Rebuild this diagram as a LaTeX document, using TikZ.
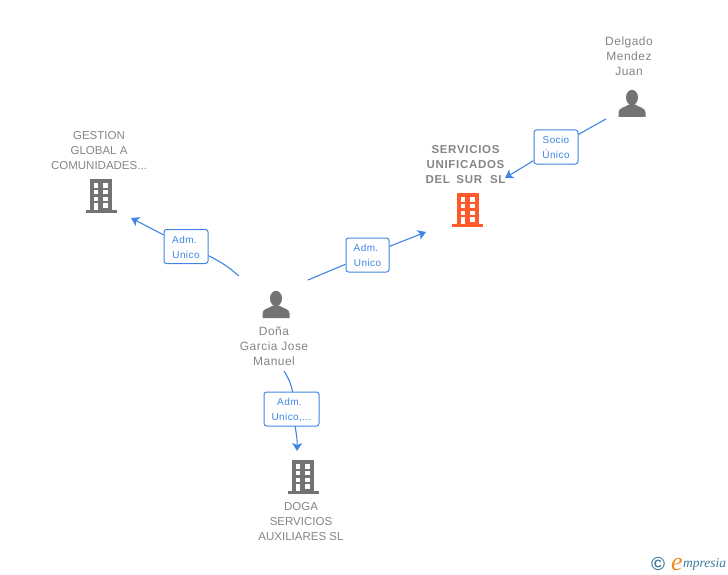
\documentclass[tikz,border=0pt]{standalone}
\usepackage{fontspec}
\usepackage{tikz}
\usetikzlibrary{arrows.meta}
\setmainfont{Liberation Sans}
\newfontfamily\spacedbold[LetterSpace=6]{Liberation Sans}
\newfontfamily\spacedsans[LetterSpace=4]{Liberation Sans}
\newfontfamily\logofont{Liberation Serif}
\definecolor{labelgray}{HTML}{858585}
\definecolor{icongray}{HTML}{737373}
\definecolor{linkblue}{HTML}{3F86E4}
\definecolor{mainorange}{HTML}{FF5A2C}
\definecolor{logoblue}{HTML}{3E7C9C}
\definecolor{logoorange}{HTML}{F08A1E}

\tikzset{
  building/.pic = {
    \fill[pic actions] (-11,-17) rectangle (11,14);
    \fill[pic actions] (-15.5,14) rectangle (15.5,17);
    \foreach \r/\h in {-12.7/5, -6/4, 1.3/3.6} {
      \fill[white] (-7,\r) rectangle (-2.7,\r+\h);
      \fill[white] (2.3,\r) rectangle (7,\r+\h);
    }
    \fill[white] (-7,7.3) rectangle (-2.7,14);
    \fill[white] (2.3,7.3) rectangle (7,11.5);
  },
  person/.pic = {
    \fill[pic actions] (0,-6) ellipse (6 and 7.7);
    \fill[pic actions] (-13.5,13.5) -- (-13.5,9) .. controls (-13.5,4) and (-7,4) .. (-3,1)
      -- (3,1) .. controls (7,4) and (13.5,4) .. (13.5,9) -- (13.5,13.5) -- cycle;
  }
}

\begin{document}
\begin{tikzpicture}[x=1pt, y=-1pt,
  entity/.style = {text=labelgray, align=center, inner sep=0pt, font=\fontsize{11.5}{15}\selectfont},
  persona/.style = {text=labelgray, align=center, inner sep=0pt, font=\fontsize{12}{15}\selectfont\spacedsans},
  mainentity/.style = {text=labelgray, align=center, inner sep=0pt, font=\fontsize{11.5}{15}\selectfont\spacedbold\bfseries},
  role/.style = {draw=linkblue, fill=white, rounded corners=2.5pt, line width=1pt, text=linkblue,
    align=center, inner sep=0pt, minimum height=34pt, text height=24pt, font=\fontsize{10}{15}\selectfont\spacedsans},
  link/.style = {draw=linkblue, line width=1.1pt},
  linkto/.style = {link, -{Stealth[length=8pt,width=10pt,inset=2pt]}}]

\useasboundingbox (0,0) rectangle (728,575);

%% icons
\pic[fill=icongray] at (101,196) {building};
\pic[fill=mainorange] at (467.5,210) {building};
\pic[fill=icongray] at (303,477) {building};
\pic[fill=icongray] at (276,304.5) {person};
\pic[fill=icongray] at (632,103.5) {person};

%% names
\node[entity] (gestion) at (99,150.7) {GESTION\\GLOBAL A\\COMUNIDADES...};
\node[mainentity] (servicios) at (465.5,164.7) {SERVICIOS\\UNIFICADOS\\DEL\hspace{6.5pt}SUR\hspace{8pt}SL};
\node[persona] (delgado) at (629,56) {Delgado\\Mendez\\Juan};
\node[persona] (dona) at (274,346) {Doña\\Garcia Jose\\Manuel};
\node[entity] (doga) at (301,521.7) {DOGA\\SERVICIOS\\AUXILIARES SL};

%% role boxes
\node[role, minimum width=44pt] (socio) at (556,147) {Socio\\Único};
\node[role, minimum width=44pt] (admgestion) at (186,246.5) {Adm.\hspace*{3pt}\\Unico};
\node[role, minimum width=43pt] (admservicios) at (367.5,255) {Adm.\hspace*{3pt}\\Unico};
\node[role, minimum width=55pt] (admdoga) at (291.5,409) {Adm.\hspace*{4pt}\\Unico,...};

%% free ends
\coordinate (delgadoout) at (606,119);
\coordinate (serviciosin) at (505,178);
\coordinate (gestionin) at (131,218);
\coordinate (gestionout) at (239,276);
\coordinate (serviciosout) at (308,280);
\coordinate (serviciosin2) at (426,232);
\coordinate (dogaout) at (284,371);
\coordinate (dogaboxin) at (292.7,392);
\coordinate (dogaboxout) at (295,426);
\coordinate (dogain) at (297,451);

%%% edges
\draw[link] (delgadoout) -- (socio);
\draw[linkto] (socio) -- (serviciosin);
\draw[link] (gestionout) to[bend right=7] (admgestion);
\draw[linkto] (admgestion) -- (gestionin);
\draw[link] (serviciosout) -- (admservicios);
\draw[linkto] (admservicios) -- (serviciosin2);
\draw[link] (dogaout) to[bend left=10] (dogaboxin);
\draw[linkto] (dogaboxout) to[bend left=6] (dogain);

%% logo
\node[text=logoblue, inner sep=0pt, font=\fontsize{19}{19}\selectfont\bfseries] (logomark) at (658,564) {©};
\node[text=logoorange, inner sep=0pt, font=\fontsize{26}{26}\selectfont\logofont\itshape] (logoe) at (677,564) {e};
\node[text=logoblue, inner sep=0pt, anchor=west, font=\fontsize{13.5}{13.5}\selectfont\logofont\itshape] (logotext) at (683,564) {mpresia};

\end{tikzpicture}
\end{document}
